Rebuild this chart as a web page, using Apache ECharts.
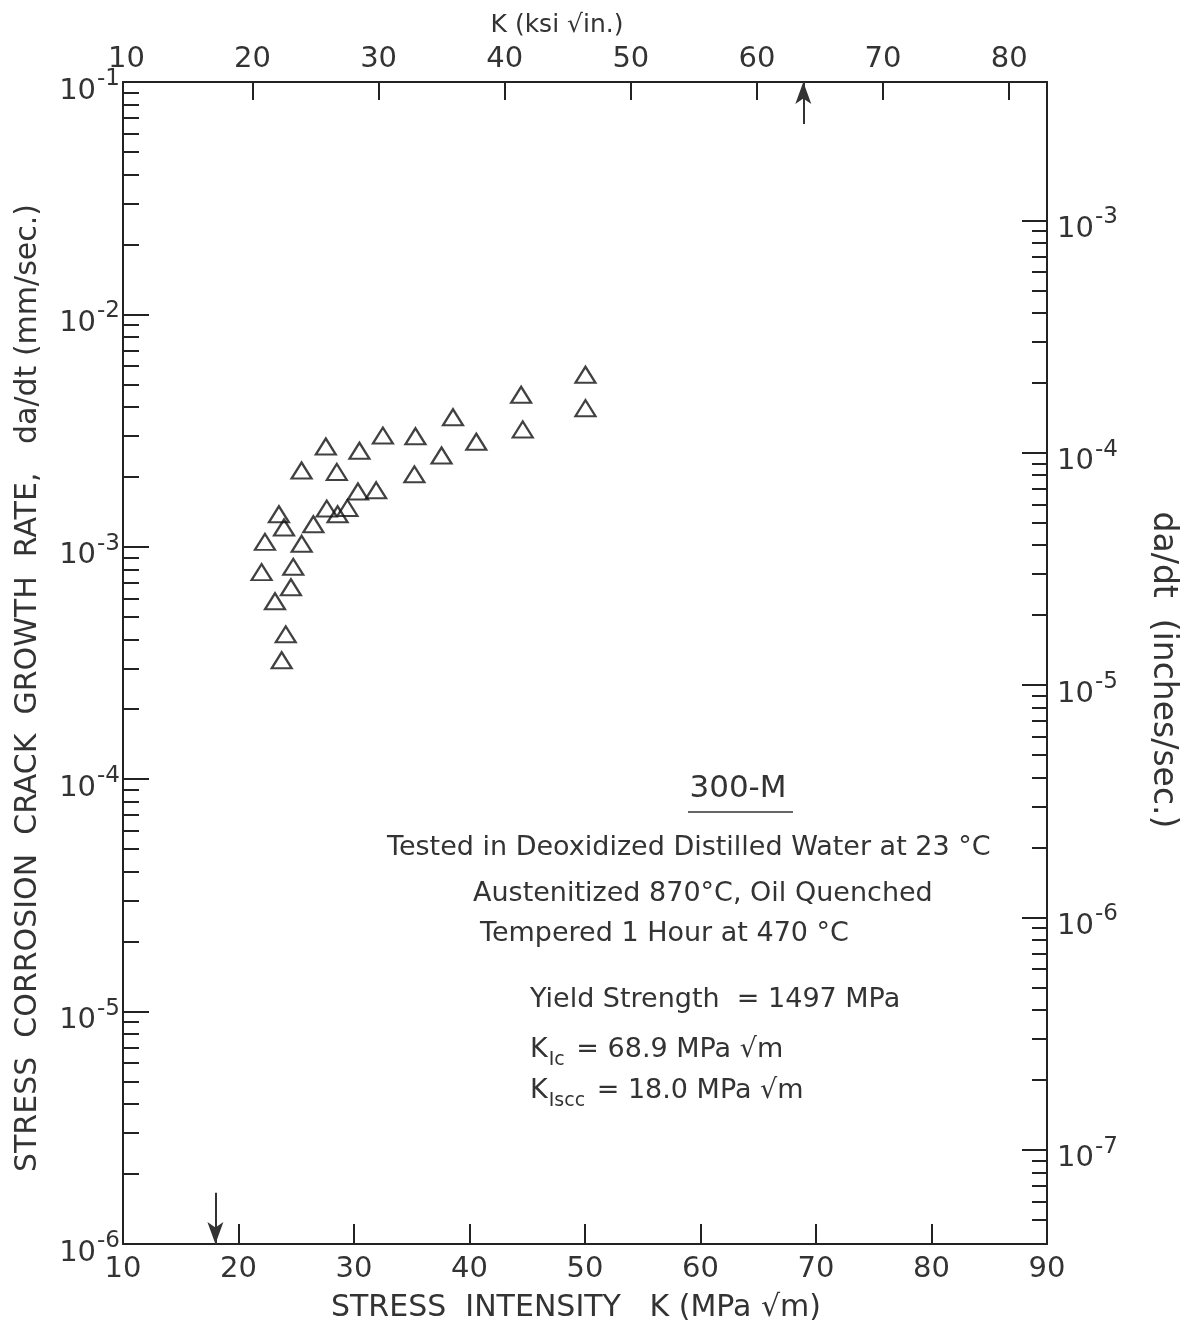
<!DOCTYPE html>
<html><head><meta charset="utf-8">
<script src="https://cdn.jsdelivr.net/npm/echarts@6/dist/echarts.min.js"></script>
<style>html,body{margin:0;padding:0;background:#fff}#c{width:1181px;height:1331px}</style>
</head><body><div id="c"></div>
<script>
// Stress intensity K (MPa sqrt(m)) of each test point
const kMPa = [22.29, 22.00, 23.50, 23.94, 25.47, 24.74, 24.54, 23.16, 24.09, 23.74,
              25.46, 27.56, 28.51, 30.47, 32.50, 35.32, 35.23, 37.58, 30.34, 31.92,
              27.64, 28.58, 29.43, 26.48, 38.57, 40.59, 44.47, 44.61, 50.04, 50.04];
// Crack growth rate da/dt (mm/sec) of each test point
const rateMM = [1.05e-3, 7.78e-4, 1.38e-3, 1.21e-3, 1.03e-3, 8.2e-4, 6.70e-4, 5.83e-4, 4.20e-4, 3.25e-4,
                2.13e-3, 2.70e-3, 2.10e-3, 2.59e-3, 3.01e-3, 2.99e-3, 2.05e-3, 2.47e-3, 1.73e-3, 1.75e-3,
                1.46e-3, 1.38e-3, 1.47e-3, 1.25e-3, 3.61e-3, 2.83e-3, 4.51e-3, 3.20e-3, 5.50e-3, 3.95e-3];
// Arrows: K_Iscc (bottom) and K_Ic (top)
const arrowK = [18.0, 68.9];
const arrowTail = [1.66e-6, 6.6e-2];
const arrowHead = [1e-6, 1e-1];
// Axes
const bottomRange = [10, 90];
const topRange = [9.73, 83.0];            // ksi sqrt(in) scale as drawn on the original
const topTickValues = [20, 30, 40, 50, 60, 70, 80];
const topLabelValues = [10, 20, 30, 40, 50, 60, 70, 80];
const leftRange = [1e-6, 1e-1];
const leftMajor = [1e-6, 1e-5, 1e-4, 1e-3, 1e-2, 1e-1];
const rightMajor = [1e-7, 1e-6, 1e-5, 1e-4, 1e-3];
const minorMult = [2, 3, 4, 5, 6, 7, 8, 9];
const leftDecades = [1e-6, 1e-5, 1e-4, 1e-3, 1e-2];
const rightDecades = [1e-8, 1e-7, 1e-6, 1e-5, 1e-4];
const MM_PER_IN = 25.4;

const rightRange = [leftRange[0] / MM_PER_IN, leftRange[1] / MM_PER_IN];
const leftMinor = [];
leftDecades.forEach(d => minorMult.forEach(m => leftMinor.push(m * d)));
const rightMinor = [];
rightDecades.forEach(d => minorMult.forEach(m => { const v = m * d; if (v > rightRange[0] * 1.2 && v < rightMajor[rightMajor.length - 1]) rightMinor.push(v); }));

const INK = '#222';
const TXT = '#333';
const FONT = 'DejaVu Sans';

const powRich = {
  b: { fontSize: 29, lineHeight: 29, color: TXT, fontFamily: FONT, verticalAlign: 'top', padding: [9, 0, 15, 0] },
  s: { fontSize: 23, lineHeight: 23, color: TXT, fontFamily: FONT, verticalAlign: 'top', padding: [0, 0, 0, 1] }
};
const powFmt = v => '{b|10}{s|' + Math.round(Math.log10(v)) + '}';

const axisLine = { show: true, lineStyle: { color: INK, width: 2 } };
const tickStyle = { color: INK, width: 2 };

function subRich() {
  return {
    k: { fontSize: 27, lineHeight: 28, fontFamily: FONT, fill: TXT, verticalAlign: 'top' },
    s: { fontSize: 19, lineHeight: 19, fontFamily: FONT, fill: TXT, verticalAlign: 'top', padding: [15, 3, 0, 1] },
    t: { fontSize: 27, lineHeight: 28, fontFamily: FONT, fill: TXT, verticalAlign: 'top' }
  };
}
function label(x, y, text, opt) {
  return { type: 'text', x: x, y: y, rotation: (opt && opt.rot) || 0,
    style: { text: text, fontSize: (opt && opt.size) || 27, fontFamily: FONT, fill: TXT,
             align: (opt && opt.align) || 'left', verticalAlign: 'middle' } };
}

const chart = echarts.init(document.getElementById('c'), null, { renderer: 'canvas' });
chart.setOption({
  animation: false,
  backgroundColor: '#fff',
  grid: { left: 123, right: 134, top: 82, bottom: 87, containLabel: false, outerBoundsMode: 'none' },
  xAxis: [
    { type: 'value', position: 'bottom', min: bottomRange[0], max: bottomRange[1], interval: 10,
      axisLine: axisLine, axisTick: { inside: true, length: 20, lineStyle: tickStyle },
      axisLabel: { fontSize: 29, color: TXT, fontFamily: FONT, margin: 11 },
      splitLine: { show: false } },
    { type: 'value', position: 'top', min: topRange[0], max: topRange[1],
      axisLine: axisLine,
      axisTick: { inside: true, length: 18, lineStyle: tickStyle, customValues: topTickValues },
      axisLabel: { fontSize: 29, color: TXT, fontFamily: FONT, margin: 8, customValues: topLabelValues },
      splitLine: { show: false } }
  ],
  yAxis: [
    { type: 'log', logBase: 10, position: 'left', min: leftRange[0], max: leftRange[1],
      axisLine: axisLine,
      axisTick: { inside: true, length: 26, lineStyle: tickStyle, customValues: leftMajor },
      axisLabel: { customValues: leftMajor, formatter: powFmt, rich: powRich, margin: 3 },
      splitLine: { show: false } },
    { type: 'log', logBase: 10, position: 'left', min: leftRange[0], max: leftRange[1],
      axisLine: { show: false },
      axisTick: { inside: true, length: 16, lineStyle: tickStyle, customValues: leftMinor },
      axisLabel: { show: false }, splitLine: { show: false } },
    { type: 'log', logBase: 10, position: 'right', min: rightRange[0], max: rightRange[1],
      axisLine: axisLine,
      axisTick: { inside: true, length: 25, lineStyle: tickStyle, customValues: rightMajor },
      axisLabel: { customValues: rightMajor, formatter: powFmt, rich: powRich, margin: 10 },
      splitLine: { show: false } },
    { type: 'log', logBase: 10, position: 'right', min: rightRange[0], max: rightRange[1],
      axisLine: { show: false },
      axisTick: { inside: true, length: 15, lineStyle: tickStyle, customValues: rightMinor },
      axisLabel: { show: false }, splitLine: { show: false } }
  ],
  series: [{
    type: 'scatter', xAxisIndex: 0, yAxisIndex: 0, silent: true,
    data: kMPa.map((k, i) => [k, rateMM[i]]),
    symbol: 'triangle', symbolSize: [20, 16],
    itemStyle: { color: 'rgba(0,0,0,0)', borderColor: '#111', borderWidth: 2.2 },
    markLine: {
      silent: true, symbol: ['none', 'arrow'], symbolSize: [12, 22],
      label: { show: false },
      lineStyle: { color: '#333', width: 2, type: 'solid' },
      data: arrowK.map((k, i) => [{ coord: [k, arrowTail[i]] }, { coord: [k, arrowHead[i]] }])
    }
  }],
  graphic: [
    label(557, 25, 'K (ksi √in.)', { size: 25, align: 'center' }),
    label(28, 688, 'STRESS  CORROSION  CRACK  GROWTH  RATE,   da/dt (mm/sec.)', { size: 30, align: 'center', rot: Math.PI / 2 }),
    label(1163, 670, 'da/dt  (inches/sec.)', { size: 33, align: 'center', rot: -Math.PI / 2 }),
    label(576, 1308, 'STRESS  INTENSITY   K (MPa √m)', { size: 30, align: 'center' }),
    label(738, 789, '300-M', { size: 31, align: 'center' }),
    { type: 'line', shape: { x1: 688, y1: 812, x2: 793, y2: 812 }, style: { stroke: TXT, lineWidth: 1.5 } },
    label(387, 848, 'Tested in Deoxidized Distilled Water at 23 °C'),
    label(473, 894, 'Austenitized 870°C, Oil Quenched'),
    label(480, 934, 'Tempered 1 Hour at 470 °C'),
    label(530, 1000, 'Yield Strength  = 1497 MPa'),
    { type: 'text', x: 530, y: 1050, style: { text: '{k|K}{s|Ic}{t| = 68.9 MPa √m}', align: 'left', verticalAlign: 'middle', rich: subRich() } },
    { type: 'text', x: 530, y: 1091, style: { text: '{k|K}{s|Iscc}{t| = 18.0 MPa √m}', align: 'left', verticalAlign: 'middle', rich: subRich() } }
  ]
});
</script>
</body></html>
